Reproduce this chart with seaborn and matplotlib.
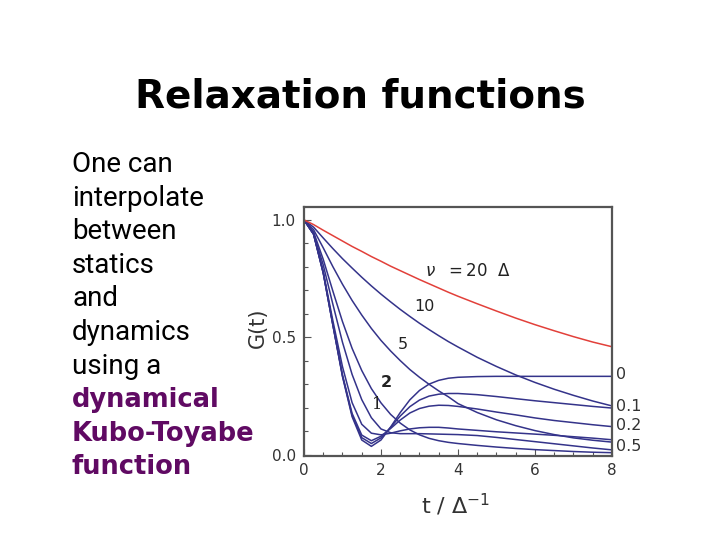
import numpy as np
import pandas as pd
import matplotlib
matplotlib.use("Agg")
import matplotlib.pyplot as plt
from matplotlib.ticker import MultipleLocator
import seaborn as sns

# ---- data ----
t = [0, 0.25, 0.5, 0.75, 1.0, 1.25, 1.5, 1.75, 2.0, 2.25, 2.5, 2.75, 3.0, 3.25,
     3.5, 3.75, 4.0, 4.5, 5.0, 5.5, 6.0, 6.5, 7.0, 7.5, 8.0]

g_0 = [1.0, 0.939, 0.775, 0.553, 0.333, 0.162, 0.063, 0.036, 0.063, 0.118, 0.180,
       0.234, 0.274, 0.301, 0.317, 0.326, 0.330, 0.333, 0.334, 0.334, 0.334, 0.334,
       0.334, 0.334, 0.334]
g_01 = [1.0, 0.939, 0.774, 0.553, 0.336, 0.168, 0.073, 0.048, 0.072, 0.117, 0.165,
        0.205, 0.233, 0.250, 0.258, 0.261, 0.261, 0.256, 0.248, 0.239, 0.230, 0.222,
        0.214, 0.206, 0.199]
g_02 = [1.0, 0.939, 0.774, 0.554, 0.340, 0.176, 0.084, 0.060, 0.079, 0.112, 0.148,
        0.178, 0.197, 0.207, 0.211, 0.210, 0.206, 0.195, 0.182, 0.170, 0.157, 0.146,
        0.137, 0.128, 0.120]
g_05 = [1.0, 0.939, 0.780, 0.571, 0.375, 0.222, 0.130, 0.092, 0.085, 0.092, 0.102,
        0.110, 0.115, 0.117, 0.117, 0.114, 0.110, 0.104, 0.098, 0.093, 0.088, 0.083,
        0.077, 0.071, 0.064]
g_1 = [1.0, 0.944, 0.808, 0.641, 0.479, 0.342, 0.235, 0.158, 0.110, 0.094, 0.090,
       0.090, 0.090, 0.089, 0.088, 0.087, 0.086, 0.082, 0.074, 0.065, 0.056, 0.047,
       0.038, 0.029, 0.021]
g_2 = [1.0, 0.948, 0.832, 0.697, 0.567, 0.453, 0.359, 0.282, 0.221, 0.172, 0.135,
       0.106, 0.085, 0.070, 0.060, 0.053, 0.048, 0.040, 0.033, 0.027, 0.022, 0.018,
       0.014, 0.011, 0.009]
g_5 = [1.0, 0.958, 0.881, 0.801, 0.726, 0.657, 0.595, 0.538, 0.487, 0.442, 0.401,
       0.363, 0.330, 0.300, 0.272, 0.247, 0.218, 0.180, 0.149, 0.124, 0.103, 0.086,
       0.072, 0.062, 0.054]
g_10 = [1.0, 0.969, 0.923, 0.878, 0.835, 0.795, 0.756, 0.719, 0.684, 0.651, 0.619,
        0.589, 0.560, 0.533, 0.507, 0.482, 0.459, 0.415, 0.376, 0.340, 0.308, 0.279,
        0.253, 0.229, 0.208]
g_20 = [1.0, 0.980, 0.956, 0.933, 0.910, 0.887, 0.866, 0.844, 0.824, 0.803, 0.784,
        0.765, 0.746, 0.728, 0.710, 0.692, 0.675, 0.643, 0.612, 0.582, 0.554, 0.528,
        0.503, 0.480, 0.460]

nus = ["0", "0.1", "0.2", "0.5", "1", "2", "5", "10", "20"]
series = [g_0, g_01, g_02, g_05, g_1, g_2, g_5, g_10, g_20]

right_labels = ["0", "0.1", "0.2", "0.5"]
right_label_g = [0.34, 0.204, 0.123, 0.036]
inner_labels = ["10", "5", "2", "1"]
inner_label_pos = [(3.14, 0.63), (2.57, 0.468), (2.13, 0.306), (1.9, 0.215)]

x_ticks = [0, 2, 4, 6, 8]
y_ticks = [0.0, 0.5, 1.0]

title = "Relaxation functions"
body_lines = ["One can", "interpolate", "between", "statics", "and", "dynamics",
              "using a", "dynamical", "Kubo-Toyabe", "function"]
body_bold = [False] * 7 + [True] * 3

# ---- build long table ----
rows = []
for nu, g in zip(nus, series):
    for ti, gi in zip(t, g):
        rows.append({"t": ti, "G": gi, "nu": nu})
df = pd.DataFrame(rows)

sns.set_theme(style="white")
plt.rcParams["font.family"] = ["DejaVu Sans"]

fig = plt.figure(figsize=(7.2, 5.4), dpi=100)
fig.patch.set_facecolor("white")
ax = fig.add_axes([0.4222, 0.1556, 0.4278, 0.4611])

navy = "#34338a"
palette = {nu: navy for nu in nus}
palette["20"] = "#e2403a"
sns.lineplot(data=df, x="t", y="G", hue="nu", palette=palette, legend=False,
             linewidth=1.1, ax=ax, sort=False)

ax.set_xlim(0, 8)
ax.set_ylim(-0.005, 1.055)
ax.set_xticks(x_ticks)
ax.set_xticklabels([str(v) for v in x_ticks])
ax.set_yticks(y_ticks)
ax.set_yticklabels([f"{v:.1f}" for v in y_ticks])
ax.xaxis.set_minor_locator(MultipleLocator(0.5))
ax.yaxis.set_minor_locator(MultipleLocator(0.1))
ax.tick_params(which="both", direction="in", colors="#555555", labelcolor="#333333",
               labelsize=11, bottom=True, left=True)
ax.tick_params(which="major", length=5, width=0.8)
ax.tick_params(which="minor", length=3, width=0.8)
ax.tick_params(axis="y", pad=6)
ax.tick_params(axis="x", pad=5)
for s in ax.spines.values():
    s.set_color("#555555")
    s.set_linewidth(1.6)
ax.set_xlabel("")
ax.set_ylabel("")

# inner labels
for lab, (xx, yy) in zip(inner_labels, inner_label_pos):
    fam = ["DejaVu Serif"] if lab == "1" else ["DejaVu Sans"]
    ax.text(xx, yy, lab, fontsize=11.5, ha="center", va="center", color="#222222",
            family=fam, fontweight="bold" if lab == "2" else "normal")
ax.text(4.26, 0.783, r"$\nu\ \ =20\ \ \Delta$", fontsize=12, ha="center",
        va="center", color="#222222")
for lab, yy in zip(right_labels, right_label_g):
    ax.text(8.1, yy, lab, fontsize=11.5, ha="left", va="center", color="#333333",
            clip_on=False)

# axis titles
fig.text(258 / 720, 1 - 328 / 540, "G(t)", rotation=90, fontsize=15,
         ha="center", va="center", color="#333333")
fig.text(456 / 720, 1 - 505 / 540, r"t / $\Delta^{-1}$", fontsize=16,
         ha="center", va="center", color="#333333")

# slide title
fig.text(360 / 720, 1 - 108 / 540, title, fontsize=28, fontweight="bold",
         ha="center", va="baseline", color="black")

# body text
base0 = 172
step = 33.6
for i, (line, b) in enumerate(zip(body_lines, body_bold)):
    y = 1 - (base0 + i * step) / 540
    if b:
        fig.text(72 / 720, y, line, fontsize=18.5, fontweight="bold", color="#600a63",
                 ha="left", va="baseline", family=["DejaVu Sans"])
    else:
        fig.text(72 / 720, y, line, fontsize=20, color="black", ha="left",
                 va="baseline", family=["Roboto", "DejaVu Sans"])

fig.savefig("out.png", dpi=100, facecolor="white")
